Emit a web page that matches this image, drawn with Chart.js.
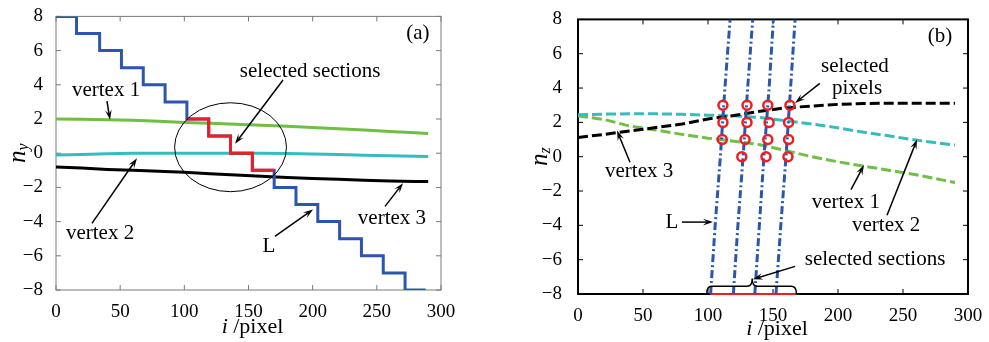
<!DOCTYPE html>
<html lang="en">
<head>
<meta charset="UTF-8">
<title>n_y and n_z versus i</title>
<script src="https://cdn.jsdelivr.net/npm/chart.js"></script>
<style>
  body { margin: 0; background: #fff; }
  .panel { position: absolute; top: 0; }
</style>
</head>
<body>
<div class="panel" style="left:0"><canvas id="chartA" width="494" height="342"></canvas></div>
<div class="panel" style="left:494px"><canvas id="chartB" width="495" height="342"></canvas></div>
<script>
// ticks shared by both panels
const xTicks = [0, 50, 100, 150, 200, 250, 300];
const yTicks = [-8, -6, -4, -2, 0, 2, 4, 6, 8];

// ---- panel (a): n_y ----
// L staircase: value switches to stepL[k] at stepI[k]
const stepI = [0, 16, 34, 51, 68, 85, 102, 119, 136, 153, 170, 187, 204, 221, 238, 255, 272, 288];
const stepL = [8, 7, 6, 5, 4, 3, 2, 1, 0, -1, -2, -3, -4, -5, -6, -7, -8, -8];
const selStartA = 102, selEndA = 170;
const iA = [0, 20, 40, 60, 80, 100, 120, 140, 160, 180, 200, 220, 240, 260, 280, 290];
const vertex1A = [2.0, 1.98, 1.95, 1.92, 1.87, 1.8, 1.75, 1.7, 1.63, 1.58, 1.5, 1.43, 1.35, 1.27, 1.19, 1.15];
const vertex2A = [-0.1, -0.08, -0.03, 0, 0, 0, 0, 0, 0, -0.02, -0.05, -0.08, -0.12, -0.15, -0.18, -0.2];
const vertex3A = [-0.8, -0.87, -0.95, -1.0, -1.05, -1.12, -1.2, -1.27, -1.35, -1.42, -1.48, -1.53, -1.58, -1.62, -1.65, -1.66];

// ---- panel (b): n_z ----
const iB = [0, 20, 40, 60, 80, 100, 120, 140, 160, 180, 200, 220, 240, 260, 280, 290];
const vertex1B = [2.38, 2.17, 1.78, 1.55, 1.3, 1.08, 0.9, 0.7, 0.35, 0.0, -0.3, -0.55, -0.8, -1.05, -1.35, -1.5];
const vertex2B = [2.44, 2.48, 2.5, 2.5, 2.47, 2.42, 2.38, 2.28, 2.1, 1.9, 1.68, 1.42, 1.2, 0.97, 0.77, 0.68];
const vertex3B = [1.12, 1.3, 1.5, 1.7, 1.9, 2.2, 2.4, 2.65, 2.85, 2.95, 3.05, 3.1, 3.12, 3.12, 3.12, 3.12];
const nL = [-8, -4, 0, 4, 8];
const lineL = [
  [102, 105.5, 109.5, 113, 117],
  [119.5, 123, 127, 130.5, 134.4],
  [136, 139.5, 143, 147, 150.3],
  [152.3, 156, 160, 163.5, 167]
];
const pixI = [111.5, 130, 146, 163, 111.5, 130, 147, 162, 111, 128.5, 146, 162, 126, 144.6, 161.5];
const pixN = [3, 3, 3, 3, 2, 2, 2, 2, 1, 1, 1, 1, 0, 0, 0];
const selB = [102, 168];

const BLUE = '#2a56b0', GREEN = '#6fbf45', CYAN = '#36bcbc', RED = '#ee1c24';
const FAMILY = 'Liberation Serif';
const FONT = '"Liberation Serif", serif';

Chart.defaults.font.family = FAMILY;
Chart.defaults.color = '#000';

const pts = (xs, ys) => xs.map((x, k) => ({x: x, y: ys[k]}));
const fmt = v => v < 0 ? '\u2212' + Math.abs(v) : '' + v;

function arrow(ctx, x1, y1, x2, y2) {
  const a = Math.atan2(y2 - y1, x2 - x1), L = 10, W = 3.3;
  const c = Math.cos(a), s = Math.sin(a);
  ctx.beginPath();
  ctx.moveTo(x1, y1);
  ctx.lineTo(x2 - c * L * 0.6, y2 - s * L * 0.6);
  ctx.stroke();
  ctx.beginPath();
  ctx.moveTo(x2, y2);
  ctx.lineTo(x2 - L * c + W * s, y2 - L * s - W * c);
  ctx.lineTo(x2 - 0.6 * L * c, y2 - 0.6 * L * s);
  ctx.lineTo(x2 - L * c - W * s, y2 - L * s + W * c);
  ctx.closePath();
  ctx.fill();
}

function makeDecor(spec) {
  return {
    id: 'decor',
    beforeDatasetsDraw(chart) {
      const {ctx, chartArea: a, scales: {x, y}} = chart;
      ctx.save();
      ctx.strokeStyle = spec.frame;
      ctx.lineWidth = spec.frameW;
      ctx.strokeRect(a.left, a.top, a.right - a.left, a.bottom - a.top);
      ctx.lineWidth = 1;
      ctx.beginPath();
      xTicks.forEach(v => {
        const p = x.getPixelForValue(v);
        ctx.moveTo(p, a.bottom); ctx.lineTo(p, a.bottom - 5);
        ctx.moveTo(p, a.top); ctx.lineTo(p, a.top + 5);
      });
      yTicks.forEach(v => {
        const p = y.getPixelForValue(v);
        ctx.moveTo(a.left, p); ctx.lineTo(a.left + 5, p);
        ctx.moveTo(a.right, p); ctx.lineTo(a.right - 5, p);
      });
      ctx.stroke();
      ctx.restore();
    },
    afterDatasetsDraw(chart) {
      const {ctx, chartArea: a, scales: {x, y}} = chart;
      ctx.save();
      ctx.fillStyle = '#000';
      ctx.strokeStyle = '#000';
      ctx.lineWidth = 1.5;
      if (spec.ellipse) {
        const e = spec.ellipse;
        const cx = x.getPixelForValue(e.i), cy = y.getPixelForValue(e.v);
        const rx = x.getPixelForValue(e.i + e.ri) - cx, ry = cy - y.getPixelForValue(e.v + e.rv);
        ctx.lineWidth = 1;
        ctx.beginPath();
        ctx.ellipse(cx, cy, rx, ry, 0, 0, Math.PI * 2);
        ctx.stroke();
        ctx.lineWidth = 1.5;
      }
      if (spec.brace) {
        const b = spec.brace;
        const px = v => x.getPixelForValue(v), py = v => y.getPixelForValue(v);
        const base = py(-8), top = py(b.level), peak = py(b.peak);
        const l = px(b.from), r = px(b.to), m = px(b.mid);
        ctx.beginPath();
        ctx.moveTo(l, base);
        ctx.quadraticCurveTo(l, top, l + 5, top);
        ctx.lineTo(m - 5, top);
        ctx.quadraticCurveTo(m, top, m, peak);
        ctx.quadraticCurveTo(m, top, m + 5, top);
        ctx.lineTo(r - 5, top);
        ctx.quadraticCurveTo(r, top, r, base);
        ctx.stroke();
      }
      spec.arrows.forEach(r => arrow(ctx, x.getPixelForValue(r[0]), y.getPixelForValue(r[1]),
                                         x.getPixelForValue(r[2]), y.getPixelForValue(r[3])));
      ctx.font = '21px ' + FONT;
      ctx.textAlign = 'center';
      ctx.textBaseline = 'middle';
      spec.texts.forEach(t => ctx.fillText(t.t, x.getPixelForValue(t.i), y.getPixelForValue(t.v)));

      // axis titles
      const midY = (a.top + a.bottom) / 2;
      ctx.save();
      ctx.translate(a.left - spec.yTitleOff, midY);
      ctx.rotate(-Math.PI / 2);
      ctx.textAlign = 'left';
      ctx.font = 'italic 25px ' + FONT;
      const wn = ctx.measureText('n').width;
      ctx.font = 'italic 16px ' + FONT;
      const ws = ctx.measureText(spec.sub).width;
      ctx.font = 'italic 25px ' + FONT;
      ctx.fillText('n', -(wn + ws) / 2, 0);
      ctx.font = 'italic 16px ' + FONT;
      ctx.fillText(spec.sub, -(wn + ws) / 2 + wn, 6);
      ctx.restore();

      ctx.textAlign = 'left';
      ctx.font = 'italic 22px ' + FONT;
      const wi = ctx.measureText('i ').width;
      ctx.font = '22px ' + FONT;
      const wp = ctx.measureText('/pixel').width;
      const x0 = (a.left + a.right) / 2 + 4 - (wi + wp) / 2;
      const ty = a.bottom + spec.xTitleOff;
      ctx.font = 'italic 22px ' + FONT;
      ctx.fillText('i ', x0, ty);
      ctx.font = '22px ' + FONT;
      ctx.fillText('/pixel', x0 + wi, ty);
      ctx.restore();
    }
  };
}

function scalesFor(yW, xH, pad) {
  const tickFont = {family: FAMILY, size: 19};
  return {
    x: {
      type: 'linear', min: 0, max: 300,
      afterFit: s => { s.height = xH; },
      afterBuildTicks: s => { s.ticks = xTicks.map(v => ({value: v})); },
      ticks: {font: tickFont, padding: 3, callback: fmt},
      grid: {display: false}, border: {display: false}
    },
    y: {
      min: -8, max: 8,
      afterFit: s => { s.width = yW; },
      afterBuildTicks: s => { s.ticks = yTicks.map(v => ({value: v})); },
      ticks: {font: tickFont, padding: pad, callback: fmt},
      grid: {display: false}, border: {display: false}
    }
  };
}

const lineDs = (data, color, extra) => Object.assign({
  data: data, borderColor: color, borderWidth: 3, pointRadius: 0, fill: false, tension: 0
}, extra || {});

// ---- chart (a) ----
const redA = [];
stepI.forEach((x, k) => { if (x >= selStartA && x < selEndA) redA.push({x: x, y: stepL[k]}); });
redA.push({x: selEndA, y: redA[redA.length - 1].y});

new Chart(document.getElementById('chartA'), {
  type: 'line',
  data: {
    datasets: [
      lineDs(redA, RED, {stepped: 'before'}),
      lineDs(pts(stepI, stepL), BLUE, {stepped: 'before'}),
      lineDs(pts(iA, vertex1A), GREEN),
      lineDs(pts(iA, vertex2A), CYAN),
      lineDs(pts(iA, vertex3A), '#000')
    ]
  },
  options: {
    responsive: false, animation: false, devicePixelRatio: 1,
    layout: {padding: {top: 15, right: 53, left: 0, bottom: 0}},
    plugins: {legend: {display: false}, tooltip: {enabled: false}},
    scales: scalesFor(56, 52, 5)
  },
  plugins: [makeDecor({
    frame: '#7a7a7a', frameW: 1, sub: 'y', yTitleOff: 38, xTitleOff: 37,
    ellipse: {i: 136, v: 0.35, ri: 43.6, rv: 2.6},
    texts: [
      {t: '(a)', i: 282, v: 7.0},
      {t: 'selected sections', i: 198, v: 4.8},
      {t: 'vertex 1', i: 39, v: 3.64},
      {t: 'vertex 2', i: 34.3, v: -4.68},
      {t: 'vertex 3', i: 261.8, v: -3.81},
      {t: 'L', i: 166, v: -5.44}
    ],
    arrows: [
      [176.9, 4.28, 139.5, 0.55],
      [39.7, 3.05, 42.1, 1.95],
      [28, -4.1, 63.1, -0.3],
      [256.4, -3.11, 270.4, -1.75],
      [170.6, -4.86, 200.3, -3.29]
    ]
  })]
});

// ---- chart (b) ----
const dsB = [
  lineDs(pts(pixI, pixN), RED, {showLine: false, pointRadius: 4.5, pointBorderWidth: 2.5,
    pointBackgroundColor: 'rgba(0,0,0,0)', pointBorderColor: RED})
];
lineL.forEach(col => dsB.push(lineDs(pts(col, nL), BLUE, {borderDash: [8, 3, 2, 3]})));
dsB.push(lineDs(pts(selB, [-8, -8]), RED, {borderWidth: 2, clip: 4}));
dsB.push(lineDs(pts(iB, vertex3B), '#000', {borderDash: [10, 4]}));
dsB.push(lineDs(pts(iB, vertex2B), CYAN, {borderDash: [10, 4]}));
dsB.push(lineDs(pts(iB, vertex1B), GREEN, {borderDash: [10, 4]}));

new Chart(document.getElementById('chartB'), {
  type: 'line',
  data: {datasets: dsB},
  options: {
    responsive: false, animation: false, devicePixelRatio: 1,
    layout: {padding: {top: 15, right: 21, left: 0, bottom: 0}},
    plugins: {legend: {display: false}, tooltip: {enabled: false}},
    scales: scalesFor(84, 48, 8)
  },
  plugins: [makeDecor({
    frame: '#000', frameW: 2, sub: 'z', yTitleOff: 38, xTitleOff: 35,
    brace: {from: 99, to: 168, mid: 134, level: -7.55, peak: -7.1},
    texts: [
      {t: '(b)', i: 278.5, v: 7.0},
      {t: 'selected', i: 213, v: 5.25},
      {t: 'pixels', i: 214.6, v: 4.0},
      {t: 'vertex 3', i: 47, v: -0.89},
      {t: 'L', i: 72.3, v: -3.81},
      {t: 'vertex 1', i: 206, v: -2.67},
      {t: 'vertex 2', i: 237, v: -3.99},
      {t: 'selected sections', i: 228.5, v: -6.0}
    ],
    arrows: [
      [186, 4.27, 167, 3.13],
      [40, -0.32, 30, 1.52],
      [80, -3.81, 103.8, -3.81],
      [210, -1.92, 220, -0.49],
      [237.7, -3.41, 260.8, 1.0],
      [167, -6.39, 134.6, -7.14]
    ]
  })]
});
</script>
</body>
</html>
